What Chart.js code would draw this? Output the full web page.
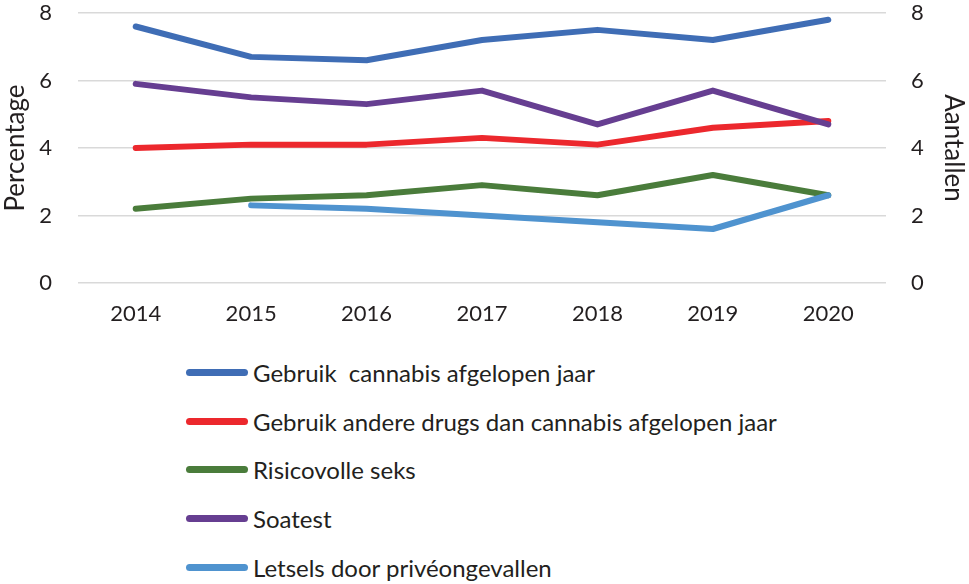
<!DOCTYPE html>
<html>
<head>
<meta charset="utf-8">
<script src="https://cdn.jsdelivr.net/npm/chart.js@4.4.1/dist/chart.umd.min.js"></script>
<style>
  html, body { margin: 0; padding: 0; background: #fff; }
  #wrap { position: relative; width: 969px; height: 584px; }
  #chartBox { position: absolute; left: 0; top: 0; width: 969px; height: 340px; }
  #legend { position: absolute; left: 186px; top: 348px; font-family: Lato, sans-serif; font-size: 24px; color: #231F20; }
  .item { position: relative; height: 48.8px; display: flex; align-items: center; }
  .swatch { width: 62px; height: 7px; border-radius: 3.5px; margin-right: 5px; }
</style>
</head>
<body>
<div id="wrap">
  <div id="chartBox"><canvas id="chart"></canvas></div>
  <div id="legend"></div>
</div>
<script>
// Years on the x axis
const years = ['2014', '2015', '2016', '2017', '2018', '2019', '2020'];

// Series values
const cannabis = [7.6, 6.7, 6.6, 7.2, 7.5, 7.2, 7.8];
const andereDrugs = [4.0, 4.1, 4.1, 4.3, 4.1, 4.6, 4.8];
const risicoSeks = [2.2, 2.5, 2.6, 2.9, 2.6, 3.2, 2.6];
const soatest = [5.9, 5.5, 5.3, 5.7, 4.7, 5.7, 4.7];
const letsels = [null, 2.3, 2.2, 2.0, 1.8, 1.6, 2.6];

const yTicks = [0, 2, 4, 6, 8];

const FONT = 'Lato';
const TEXT = '#231F20';

const datasets = [
    { label: 'Gebruik  cannabis afgelopen jaar', data: cannabis, color: '#3F6DB5', axis: 'y', order: 1 },
    { label: 'Gebruik andere drugs dan cannabis afgelopen jaar', data: andereDrugs, color: '#EC282D', axis: 'y', order: 3 },
    { label: 'Risicovolle seks', data: risicoSeks, color: '#4A7C3B', axis: 'y', order: 4 },
    { label: 'Soatest', data: soatest, color: '#663E91', axis: 'y', order: 2 },
    { label: 'Letsels door privéongevallen', data: letsels, color: '#4F93CF', axis: 'y1', order: 0 }
];

// no extra room above/below the value axes, the chart area is fixed by layout padding
function noPad(scale) {
    scale.paddingTop = 0;
    scale.paddingBottom = 0;
}

const ctx = document.getElementById('chart');
new Chart(ctx, {
    type: 'line',
    data: {
        labels: years,
        datasets: datasets.map(d => ({
            label: d.label,
            data: d.data,
            borderColor: d.color,
            backgroundColor: d.color,
            borderWidth: 6,
            borderCapStyle: 'round',
            borderJoinStyle: 'round',
            pointRadius: 0,
            tension: 0,
            spanGaps: false,
            yAxisID: d.axis,
            order: d.order
        }))
    },
    options: {
        responsive: true,
        maintainAspectRatio: false,
        animation: false,
        layout: { padding: { top: 13, bottom: 0, left: 0, right: 0 } },
        plugins: {
            legend: { display: false },
            tooltip: { enabled: false }
        },
        scales: {
            x: {
                offset: true,
                grid: { display: false },
                border: { display: false },
                ticks: { color: TEXT, font: { family: FONT, size: 22 }, padding: 10, maxRotation: 0 },
                afterFit: scale => { scale.height = 57; }
            },
            y: {
                position: 'left',
                min: 0,
                max: 8,
                afterBuildTicks: scale => { scale.ticks = yTicks.map(v => ({ value: v })); },
                grid: { color: '#D9D9D9', lineWidth: 1.5, drawTicks: false },
                border: { display: false },
                ticks: { color: TEXT, font: { family: FONT, size: 22 }, padding: 26 },
                title: { display: true, text: 'Percentage', color: TEXT, font: { family: FONT, size: 26 }, padding: 0 },
                afterFit: scale => { scale.width = 78; noPad(scale); }
            },
            y1: {
                position: 'right',
                min: 0,
                max: 8,
                afterBuildTicks: scale => { scale.ticks = yTicks.map(v => ({ value: v })); },
                grid: { display: false, drawTicks: false },
                border: { display: false },
                ticks: { color: TEXT, font: { family: FONT, size: 22 }, padding: 25 },
                title: { display: true, text: 'Aantallen', color: TEXT, font: { family: FONT, size: 26 }, padding: 0 },
                afterFit: scale => { scale.width = 83; noPad(scale); }
            }
        }
    }
});

// Legend as a vertical list below the chart
const legend = document.getElementById('legend');
datasets.forEach(d => {
    const item = document.createElement('div');
    item.className = 'item';
    item.innerHTML = `<span class="swatch" style="background:${d.color}"></span><span>${d.label.replace(/  /g, ' &nbsp;')}</span>`;
    legend.appendChild(item);
});
</script>
</body>
</html>
